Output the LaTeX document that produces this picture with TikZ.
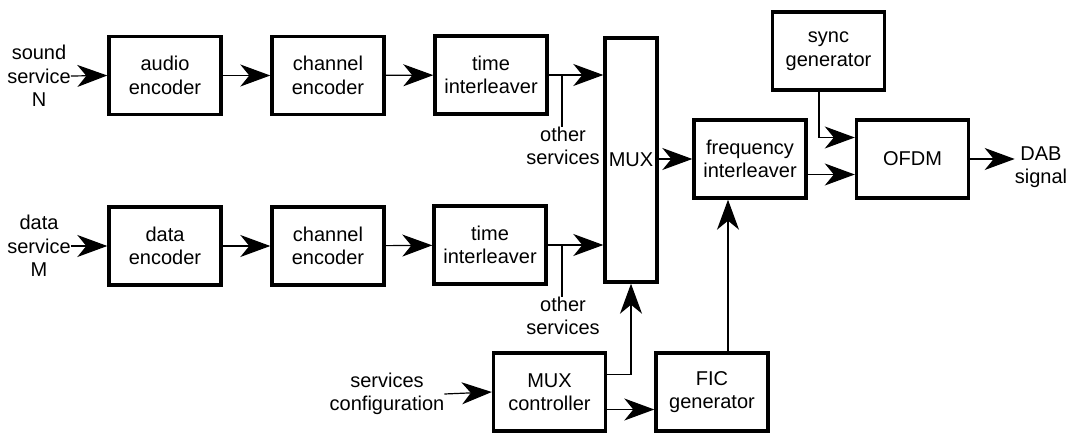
\documentclass[tikz,border=0pt]{standalone}
\usepackage{fontspec}
\setmainfont{Liberation Sans}
\usetikzlibrary{arrows.meta}
\begin{document}
\begin{tikzpicture}[x=1pt,y=-1pt,
  blk/.style={draw, line width=3.4pt, minimum width=112pt, minimum height=78pt, align=center, inner sep=0pt},
  lbl/.style={align=center, inner sep=0pt},
  conn/.style={line width=1.2pt, -{Stealth[length=30pt,width=22pt,inset=9pt]}},
  plain/.style={line width=1.2pt},
  font=\fontsize{20}{23.5}\selectfont]
\useasboundingbox (0,0) rectangle (1079,433);
% row 1
\node[blk] (aenc) at (165,75.5) {audio\\encoder};
\node[blk] (cenc1) at (328,75.5) {channel\\encoder};
\node[blk] (tint1) at (491,75) {time\\interleaver};
% row 2
\node[blk] (denc) at (165,246) {data\\encoder};
\node[blk] (cenc2) at (328,246) {channel\\encoder};
\node[blk] (tint2) at (490,245) {time\\interleaver};
% mux
\node[blk, minimum width=52pt, minimum height=244pt] (mux) at (631,160) {MUX};
\node[blk] (freq) at (750,159) {frequency\\interleaver};
\node[blk] (sync) at (828.5,51) {sync\\generator};
\node[blk] (ofdm) at (912.5,159) {OFDM};
\node[blk] (muxc) at (549.5,392) {MUX\\controller};
\node[blk] (fic) at (712,392) {FIC\\generator};
% labels
\node[lbl] (in1) at (39,76) {sound\\service\\N};
\node[lbl] (in2) at (39,246) {data\\service\\M};
\node[lbl] (oth1) at (563,146) {other\\services};
\node[lbl] (oth2) at (563,316) {other\\services};
\node[lbl] (cfg) at (387,394) {services\\configuration};
\node[lbl] (dab) at (1041,167) {DAB\\signal};
% connectors
\draw[conn] (in1.east) -- (aenc.west);
\draw[conn] (aenc) -- (cenc1);
\draw[conn] (cenc1) -- (tint1);
\draw[conn] (tint1.east) -- (tint1.east -| mux.west);
\draw[conn] (in2.east) -- (denc.west);
\draw[conn] (denc) -- (cenc2);
\draw[conn] (cenc2) -- (tint2);
\draw[conn] (tint2.east) -- (tint2.east -| mux.west);
\coordinate (b1) at (562,75);
\coordinate (b2) at (562,245);
\draw[plain] (b1) -- (oth1.north -| b1);
\draw[plain] (b2) -- (oth2.north -| b2);
\draw[conn] (mux.east |- freq.west) -- (freq.west);
\draw[conn] ([yshift=-15.5pt]freq.east) -- ([yshift=-15.5pt]ofdm.west);
\draw[conn] ([xshift=-9.5pt]sync.south) |- ([yshift=21.5pt]ofdm.west);
\draw[conn] (ofdm.east) -- (dab.west |- ofdm.east);
\draw[conn] (cfg.east) -- (muxc.west);
\draw[conn] ([yshift=17.5pt]muxc.east) -| (mux.south);
\draw[conn] ([yshift=-17.5pt]muxc.east) -- ([yshift=-17.5pt]muxc.east -| fic.west);
\draw[conn] ([xshift=16pt]fic.north) -- ([xshift=16pt]fic.north |- freq.south);
\end{tikzpicture}
\end{document}
